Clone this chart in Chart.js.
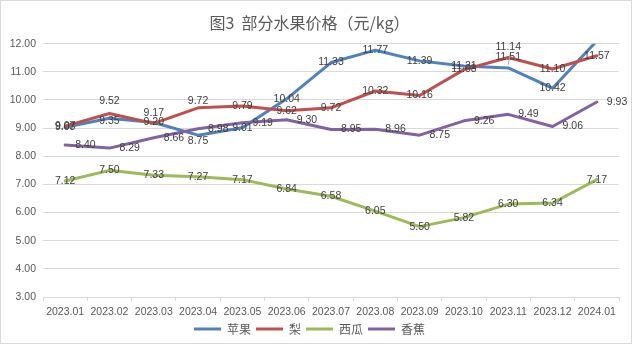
<!DOCTYPE html>
<html><head><meta charset="utf-8">
<script src="https://cdn.jsdelivr.net/npm/chart.js@4"></script>
<style>html,body{margin:0;padding:0;background:#fff}#wrap{position:relative;width:634px;height:347px}</style>
</head><body><div id="wrap"><canvas id="c" width="634" height="347"></canvas></div>
<script>
const categories = ['2023.01','2023.02','2023.03','2023.04','2023.05','2023.06','2023.07','2023.08','2023.09','2023.10','2023.11','2023.12','2024.01'];
const seriesNames = ['苹果','梨','西瓜','香蕉'];
const apple = [9.03, 9.35, 9.20, 8.75, 9.01, 10.04, 11.33, 11.77, 11.39, 11.21, 11.14, 10.42, 12.10];
const pear = [9.07, 9.52, 9.17, 9.72, 9.79, 9.62, 9.72, 10.32, 10.16, 11.08, 11.51, 11.10, 11.57];
const watermelon = [7.12, 7.50, 7.33, 7.27, 7.17, 6.84, 6.58, 6.05, 5.50, 5.82, 6.30, 6.34, 7.17];
const banana = [8.40, 8.29, 8.66, 8.98, 9.19, 9.30, 8.95, 8.96, 8.75, 9.26, 9.49, 9.06, 9.93];
const yMin = 3, yMax = 12, yStep = 1;

const colors = ['#4F81BD','#C0504D','#9BBB59','#8064A2'];
const FONT = '"Liberation Sans", "Noto Sans CJK SC", sans-serif';
const CJK = '"Noto Sans CJK SC", sans-serif';

// label placement (style only)
const labelMode = ['center','center','center','right'];
const labelShift = {'0-1':3,'0-3':6,'0-10':-21,'1-1':-12,'1-2':-10,'1-3':-7};
const leaderLines = {'0-10':true};

const labelPlugin = {
  id: 'pointLabels',
  afterDatasetsDraw(chart) {
    const ctx = chart.ctx;
    const ys = chart.scales.y;
    ctx.save();
    ctx.font = '10.5px ' + FONT;
    ctx.fillStyle = '#404040';
    ctx.textBaseline = 'middle';
    chart.data.datasets.forEach((ds, di) => {
      const meta = chart.getDatasetMeta(di);
      meta.data.forEach((pt, i) => {
        const v = ds.data[i];
        if (v > ys.max || v < ys.min) return;
        const txt = v.toFixed(2);
        const key = di + '-' + i;
        const dy = labelShift[key] || 0;
        let x = pt.x, y = pt.y + dy;
        if (labelMode[di] === 'right') { ctx.textAlign = 'left'; x = pt.x + 10; }
        else ctx.textAlign = 'center';
        if (leaderLines[key]) {
          ctx.save();
          ctx.strokeStyle = '#a6a6a6'; ctx.lineWidth = 1;
          ctx.beginPath(); ctx.moveTo(pt.x + 2, y + 7); ctx.lineTo(pt.x, pt.y - 3); ctx.stroke();
          ctx.restore();
        }
        ctx.fillText(txt, x, y);
      });
    });
    ctx.restore();
  }
};
const borderPlugin = {
  id: 'frame',
  afterDraw(chart) {
    const ctx = chart.ctx;
    ctx.save();
    ctx.strokeStyle = '#d9d9d9'; ctx.lineWidth = 1;
    ctx.strokeRect(0.5, 0.5, 631, 343);
    ctx.restore();
  }
};

const seriesData = [apple, pear, watermelon, banana];
new Chart(document.getElementById('c'), {
  type: 'line',
  data: {
    labels: categories,
    datasets: seriesData.map((d, i) => ({
      label: seriesNames[i], data: d, borderColor: colors[i], backgroundColor: colors[i],
      borderWidth: 3, pointRadius: 0, tension: 0, fill: false,
      borderCapStyle: 'round', borderJoinStyle: 'round', order: 4 - i
    }))
  },
  options: {
    responsive: false, animation: false, devicePixelRatio: 1,
    layout: { padding: { left: 0, right: 15, top: 0, bottom: 2 } },
    plugins: {
      tooltip: { enabled: false },
      title: { display: true, text: '图3  部分水果价格（元/kg）', color: '#595959',
        font: { family: CJK, size: 16, weight: 'normal' }, padding: { top: 13.5, bottom: 11 } },
      legend: { position: 'bottom', labels: { usePointStyle: true, pointStyle: 'line', pointStyleWidth: 27,
        boxHeight: 3, padding: 5, color: '#595959', font: { family: CJK, size: 12 },
        sort: (a, b) => a.datasetIndex - b.datasetIndex }, padding: 0 }
    },
    scales: {
      x: {
        offset: true,
        grid: { offset: true, drawOnChartArea: false, drawTicks: true, tickLength: 4, color: '#d9d9d9' },
        border: { display: true, color: '#d9d9d9' },
        ticks: { color: '#595959', font: { family: FONT, size: 10.5 }, autoSkip: false, maxRotation: 0, padding: 5 },
        afterFit(s) { s.height = 21; }
      },
      y: {
        min: yMin, max: yMax,
        grid: { color: '#d9d9d9', drawTicks: false },
        border: { display: false },
        ticks: { stepSize: yStep, color: '#595959', font: { family: FONT, size: 10.5 }, padding: 7,
          callback: v => Number(v).toFixed(2) },
        afterFit(s) { s.width = 43; }
      }
    }
  },
  plugins: [labelPlugin, borderPlugin]
});
</script></body></html>
